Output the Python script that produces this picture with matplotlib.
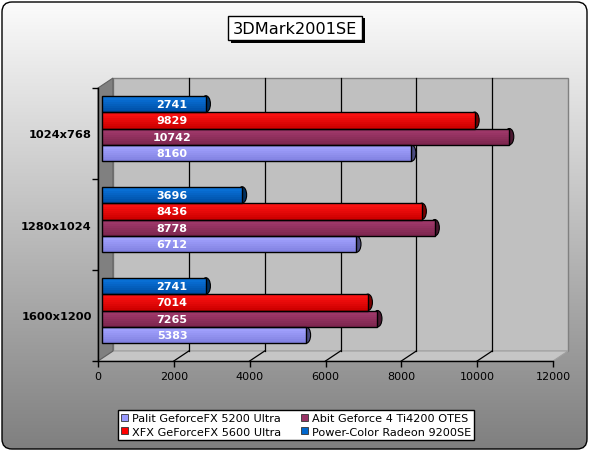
import numpy as np
import matplotlib
matplotlib.use('Agg')
import matplotlib.pyplot as plt
import matplotlib.patheffects as pe
from matplotlib.patches import Rectangle, Polygon, Ellipse, FancyBboxPatch, Patch
from matplotlib.transforms import offset_copy, IdentityTransform
from matplotlib.colors import LinearSegmentedColormap, to_rgb

# data
categories = ['1024x768', '1280x1024', '1600x1200']
palit = [8160, 6712, 5383]
abit = [10742, 8778, 7265]
xfx = [9829, 8436, 7014]
powercolor = [2741, 3696, 2741]
xticks = [0, 2000, 4000, 6000, 8000, 10000, 12000]

names = ['Palit GeforceFX 5200 Ultra', 'Abit Geforce 4 Ti4200 OTES',
         'XFX GeForceFX 5600 Ultra', 'Power-Color Radeon 9200SE']

# (name, values, top colour, bottom colour, cap colour, legend colour)
series = [
    (names[3], powercolor, '#0a74dc', '#004fa6', '#00305f', '#0066cc'),
    (names[2], xfx, '#ff1414', '#cf0000', '#7a0000', '#ff0000'),
    (names[1], abit, '#a23a6c', '#7e264f', '#4a1830', '#993366'),
    (names[0], palit, '#a4a4ff', '#8282e2', '#4b4b80', '#9999ff'),
]

W, H = 590, 452
fig = plt.figure(figsize=(W / 100, H / 100), dpi=100)
fig.patch.set_facecolor('white')

# rounded frame with grey gradient
frame = FancyBboxPatch((2, 2), W - 5, H - 5, boxstyle='round,pad=0,rounding_size=10',
                       transform=IdentityTransform(), fc='none', ec='black', lw=1)
bg = fig.add_axes([0, 0, 1, 1], zorder=-10)
bg.set_axis_off()
grad = np.linspace(0, 1, 256).reshape(-1, 1)
cmap = LinearSegmentedColormap.from_list('bg', ['#fcfcfc', '#7f7f7f'])
im = bg.imshow(grad, aspect='auto', cmap=cmap)
im.set_clip_path(frame)
fig.add_artist(frame)

# front plane of the plot
AX_L, AX_R, AX_T, AX_B = 98, 553, 89, 362
ax = fig.add_axes([AX_L / W, 1 - AX_B / H, (AX_R - AX_L) / W, (AX_B - AX_T) / H])
ax.set_xlim(0, 12000)
ax.set_ylim(2.5, -0.5)
ax.patch.set_visible(False)

DX, DY = 15, 10
back = offset_copy(ax.transData, fig=fig, x=DX, y=DY, units='dots')
mid = offset_copy(ax.transData, fig=fig, x=4, y=DY / 2, units='dots')
dxa = DX / (AX_R - AX_L)
dya = DY / (AX_B - AX_T)

# walls and floor
ax.add_patch(Rectangle((dxa, dya), 1, 1, transform=ax.transAxes, fc='#c0c0c0',
                       ec='#808080', lw=1, clip_on=False, zorder=0.4))
ax.add_patch(Polygon([(0, 0), (1, 0), (1 + dxa, dya), (dxa, dya)], closed=True,
                     transform=ax.transAxes, fc='#c6c6c6', ec='#a0a0a0', lw=0.8,
                     clip_on=False, zorder=0.5))
ax.add_patch(Polygon([(0, 0), (dxa, dya), (dxa, 1 + dya), (0, 1)], closed=True,
                     transform=ax.transAxes, fc='#808080', ec='#606060', lw=0.8,
                     clip_on=False, zorder=0.5))

# grid lines on back wall + floor diagonals
dxd = DX * 12000 / (AX_R - AX_L)
dyd = DY * 3 / (AX_B - AX_T)
for v in xticks[1:-1]:
    ax.plot([v, v], [2.5, -0.5], transform=back, color='black', lw=0.9,
            clip_on=False, zorder=1)
    ax.plot([v, v + dxd], [2.5, 2.5 - dyd], color='black', lw=0.9,
            clip_on=False, zorder=1)

# axes styling
for s in ['top', 'right']:
    ax.spines[s].set_visible(False)
for s in ['left', 'bottom']:
    ax.spines[s].set_color('black')
    ax.spines[s].set_linewidth(1)
ax.set_xticks(xticks)
ax.set_xticklabels([str(t) for t in xticks])
ax.tick_params(axis='x', direction='out', length=4, width=1, labelsize=8, pad=3)
ax.set_yticks([-0.5, 0.5, 1.5, 2.5])
ax.set_yticklabels([])
ax.tick_params(axis='y', which='major', direction='out', length=4, width=1)
ax.set_yticks([0, 1, 2], minor=True)
ax.set_yticklabels(categories, minor=True, fontweight='bold', fontsize=8.2)
ax.tick_params(axis='y', which='minor', length=0, pad=4.5)

# cylinder bars
bar_h = 0.18
cap_w = 9 * 12000 / (AX_R - AX_L)
n = 8
for i, (name, vals, top, bot, cap, _) in enumerate(series):
    ys = np.arange(len(categories)) + (i - 1.5) * bar_h
    for y, v in zip(ys, vals):
        ax.add_patch(Ellipse((v, y), width=cap_w, height=bar_h, transform=mid,
                             fc=cap, ec='black', lw=0.8, zorder=3))
    t0, b0 = np.array(to_rgb(top)), np.array(to_rgb(bot))
    for k in range(n):
        c = tuple(float(x) for x in np.clip(t0 + (b0 - t0) * k / (n - 1), 0, 1))
        ax.barh(ys - bar_h / 2 + (k + 0.5) * bar_h / n, vals, height=bar_h / n,
                color=[c] * len(vals), lw=0, transform=mid, zorder=4)
    ax.barh(ys, vals, height=bar_h, fc='none', ec='black', lw=1, transform=mid, zorder=5)
    for y, v in zip(ys, vals):
        ax.text(1850, y, str(v), transform=mid, ha='center', va='center',
                color='white', fontweight='bold', fontsize=8, zorder=6)

# title
t = fig.text(0.5, 1 - 29 / H, '3DMark2001SE', ha='center', va='center', fontsize=11.6,
             bbox=dict(boxstyle='square,pad=0.3', fc='white', ec='black', lw=1))
t.get_bbox_patch().set_path_effects([
    pe.SimplePatchShadow(offset=(2, -2), shadow_rgbFace='black', alpha=1), pe.Normal()])

# legend (Palit, XFX | Abit, Power-Color)
leg_colors = {s[0]: s[5] for s in series}
order = [names[0], names[2], names[1], names[3]]
handles = [Patch(fc=leg_colors[nm], ec='#333333', lw=0.6, label=nm) for nm in order]
leg = fig.legend(handles=handles, loc='center', bbox_to_anchor=(296 / W, 1 - 426 / H),
                 ncol=2, fontsize=8.1, frameon=True, fancybox=False, edgecolor='black',
                 framealpha=1, handlelength=0.65, handleheight=0.65, handletextpad=0.3,
                 columnspacing=1.8, borderpad=0.3, labelspacing=0.3, borderaxespad=0)
leg.get_frame().set_linewidth(1)

fig.savefig('out.png', dpi=100)
